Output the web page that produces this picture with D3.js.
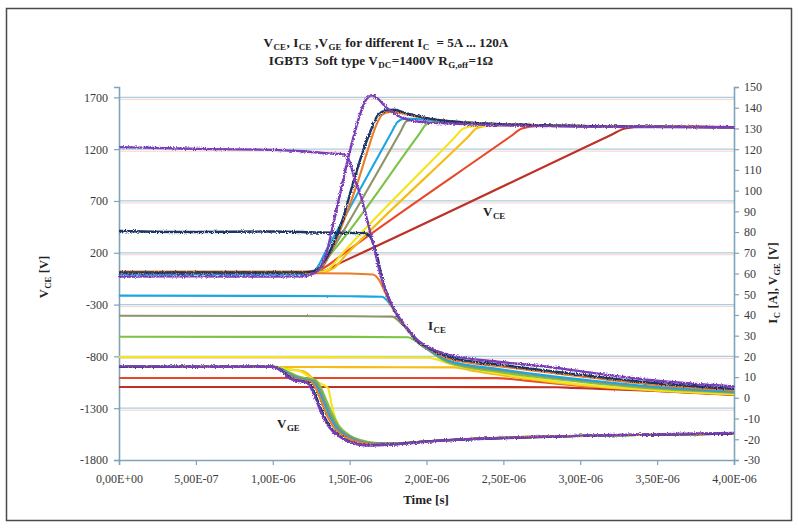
<!DOCTYPE html>
<html>
<head>
<meta charset="utf-8">
<script src="https://cdn.jsdelivr.net/npm/d3@7"></script>
<style>
  body { margin: 0; background: #fff; }
  text { font-family: "Liberation Serif", "Times New Roman", serif; }
</style>
</head>
<body>
<div id="chart"></div>
<script>
// axis ticks
const xTicks = [0, 5e-7, 1e-6, 1.5e-6, 2e-6, 2.5e-6, 3e-6, 3.5e-6, 4e-6];
const xTickLabels = ["0,00E+00", "5,00E-07", "1,00E-06", "1,50E-06", "2,00E-06", "2,50E-06", "3,00E-06", "3,50E-06", "4,00E-06"];
const leftTicks = [-1800, -1300, -800, -300, 200, 700, 1200, 1700];
const rightTicks = [-30, -20, -10, 0, 10, 20, 30, 40, 50, 60, 70, 80, 90, 100, 110, 120, 130, 140, 150];

// series (turn-off current), colours
const currents = ["120A", "80A", "60A", "50A", "40A", "30A", "20A", "15A", "10A", "5A"];
const colors = ["#7a3db8", "#1c3563", "#ea7d26", "#1ea5e3", "#8c9468", "#7cc444", "#f3e41c", "#f6bb12", "#e9472b", "#bd3126"];

// VCE [V] vs time [us]
const vce120 = [[0,-30],[0.5,-28],[1.0,-30],[1.2,-28],[1.25,-10],[1.30,40],[1.35,200],[1.40,520],[1.45,850],[1.50,1170],[1.56,1500],[1.60,1660],[1.645,1720],[1.68,1692],[1.74,1600],[1.83,1510],[1.95,1465],[2.2,1445],[2.5,1430],[3.0,1418],[3.5,1414],[4.0,1412]];
const vce80 = [[0,10],[1.2,10],[1.26,20],[1.32,80],[1.38,240],[1.45,500],[1.52,860],[1.58,1150],[1.64,1390],[1.68,1520],[1.74,1575],[1.79,1580],[1.86,1550],[2.0,1500],[2.2,1462],[2.6,1435],[3.2,1420],[4.0,1412]];
const vce60 = [[0,20],[1.2,20],[1.26,25],[1.33,90],[1.40,280],[1.48,580],[1.55,870],[1.62,1200],[1.67,1420],[1.71,1530],[1.76,1560],[1.83,1550],[1.95,1510],[2.2,1465],[2.6,1437],[3.2,1420],[4.0,1412]];
const vce50 = [[0,-10],[1.2,-10],[1.24,0],[1.28,40],[1.35,230],[1.77,1355],[1.81,1460],[1.86,1495],[1.95,1490],[2.2,1462],[2.6,1437],[3.2,1420],[4.0,1412]];
const vce40 = [[0,5],[1.2,5],[1.27,10],[1.31,40],[1.40,260],[1.83,1365],[1.87,1470],[1.93,1492],[2.05,1480],[2.3,1455],[2.7,1433],[3.3,1418],[4.0,1412]];
const vce30 = [[0,0],[1.2,0],[1.25,10],[1.30,60],[1.40,230],[1.95,1340],[2.00,1440],[2.07,1465],[2.2,1458],[2.5,1440],[3.0,1422],[4.0,1412]];
const vce20 = [[0,0],[1.22,0],[1.30,8],[1.36,40],[1.45,190],[2.18,1308],[2.24,1400],[2.32,1425],[2.6,1435],[3.0,1422],[4.0,1412]];
const vce15 = [[0,10],[1.22,10],[1.32,15],[1.39,45],[1.48,185],[2.27,1318],[2.33,1405],[2.42,1428],[2.7,1432],[3.2,1420],[4.0,1412]];
const vce10 = [[0,15],[1.22,15],[1.28,20],[1.35,70],[1.45,180],[2.55,1327],[2.62,1400],[2.72,1425],[3.2,1422],[4.0,1413]];
const vce5 = [[0,5],[1.22,5],[1.31,15],[1.45,110],[3.20,1337],[3.29,1400],[3.40,1418],[4.0,1413]];

// IC [A] vs time [us]
const ic120 = [[0,121],[0.3,120.5],[0.6,120],[0.9,119.8],[1.2,119],[1.35,118],[1.46,117.5],[1.50,114],[1.53,106],[1.57,98],[1.61,87],[1.65,75],[1.71,57],[1.78,44],[1.86,35],[1.94,28],[2.05,23.2],[2.15,20.7],[2.48,17.3],[2.80,14.9],[3.13,11.5],[3.45,8.6],[4.0,5.5]];
const ic80 = [[0,80.5],[0.5,80],[1.0,80.3],[1.3,79.8],[1.6,79.5],[1.64,77],[1.68,68],[1.71,58],[1.78,43.5],[1.86,34.8],[1.94,27.6],[2.05,22.6],[2.15,19.6],[2.48,16],[2.8,13],[3.13,10],[3.45,7.4],[4.0,4.3]];
const ic60 = [[0,60.5],[1.0,60.3],[1.5,60],[1.65,59.5],[1.69,57],[1.73,51],[1.78,43.3],[1.86,34.6],[1.94,27.4],[2.05,22.2],[2.15,18.7],[2.48,15.2],[2.8,12.2],[3.13,9.2],[3.45,6.6],[4.0,3.6]];
const ic50 = [[0,49.3],[1.0,49.2],[1.5,49],[1.71,48.8],[1.75,46.5],[1.80,41],[1.86,34.3],[1.94,27.2],[2.05,21.8],[2.15,17.8],[2.48,13.8],[2.8,10.6],[3.13,7.9],[3.45,5.6],[4.0,3.0]];
const ic40 = [[0,39.6],[1.0,39.5],[1.5,39.4],[1.78,39.2],[1.82,37],[1.87,33.5],[1.94,27],[2.05,21.4],[2.15,17.3],[2.48,13.2],[2.8,10.1],[3.13,7.4],[3.45,5.1],[4.0,2.7]];
const ic30 = [[0,29.5],[1.0,29.4],[1.5,29.4],[1.88,29.2],[1.93,27.4],[1.99,24.4],[2.05,21],[2.15,16.8],[2.48,12.4],[2.8,9.3],[3.13,6.7],[3.45,4.6],[4.0,2.4]];
const ic20 = [[0,19.7],[1.0,19.7],[1.5,19.6],[2.0,19.5],[2.06,18.6],[2.15,16.5],[2.3,14],[2.48,11.6],[2.8,8.2],[3.13,5.6],[3.45,3.9],[4.0,1.8]];
const ic15 = [[0,14.9],[1.0,14.9],[1.5,14.8],[2.18,14.7],[2.24,14],[2.32,12.8],[2.48,11],[2.8,7.7],[3.13,5.3],[3.45,3.7],[4.0,1.6]];
const ic10 = [[0,9.6],[1.0,9.6],[1.5,9.6],[2.45,9.5],[2.55,9.1],[2.65,8.3],[2.8,7.2],[3.13,5.1],[3.45,3.6],[4.0,1.5]];
const ic5 = [[0,5.2],[1.0,5.2],[2.0,5.2],[2.85,5.1],[2.95,4.8],[3.13,4.3],[3.45,3.4],[4.0,1.4]];

// VGE [V] vs time [us]
const vge120 = [[0,15.2],[0.5,15],[1.0,15],[1.03,14.2],[1.07,12],[1.10,9.8],[1.14,8.6],[1.22,7.3],[1.25,4.5],[1.29,-2.5],[1.33,-9.5],[1.37,-14.5],[1.42,-18],[1.50,-21.3],[1.61,-23],[1.74,-22.8],[1.96,-21.4],[2.15,-20.4],[2.48,-19.4],[3.13,-18],[4.0,-17]];
const vge80 = [[0,15],[1.0,15],[1.04,14],[1.08,11.8],[1.11,9.7],[1.15,8.5],[1.23,7.4],[1.26,4.3],[1.30,-2.8],[1.34,-9.8],[1.38,-14.8],[1.43,-18.2],[1.51,-21.4],[1.62,-22.8],[1.75,-22.6],[1.96,-21.3],[2.15,-20.4],[2.48,-19.5],[3.13,-18.1],[4.0,-17.2]];
const vge60 = [[0,15],[1.0,15],[1.04,14],[1.08,12],[1.12,10],[1.17,8.7],[1.25,7.6],[1.28,4.5],[1.32,-2.5],[1.36,-9.5],[1.40,-14.5],[1.46,-18.2],[1.54,-21],[1.65,-22.4],[1.80,-22.2],[2.0,-21],[2.3,-19.8],[3.0,-18.3],[4.0,-17.3]];
const vge50 = [[0,15],[1.0,15],[1.05,14],[1.09,12.2],[1.13,10.2],[1.18,9],[1.26,7.8],[1.29,4.8],[1.33,-2],[1.37,-9],[1.41,-14],[1.47,-18],[1.55,-20.8],[1.66,-22.2],[1.82,-22],[2.0,-21],[2.3,-19.8],[3.0,-18.3],[4.0,-17.3]];
const vge40 = [[0,15],[1.0,15],[1.05,14.1],[1.09,12.4],[1.14,10.5],[1.19,9.3],[1.27,8.1],[1.30,5],[1.34,-1.8],[1.38,-8.6],[1.42,-13.8],[1.48,-17.8],[1.56,-20.6],[1.68,-22],[1.84,-21.9],[2.0,-21],[2.3,-19.8],[3.0,-18.3],[4.0,-17.3]];
const vge30 = [[0,15],[1.0,15],[1.05,14.2],[1.10,12.6],[1.15,10.8],[1.20,9.7],[1.28,8.5],[1.31,5.3],[1.35,-1.5],[1.39,-8.2],[1.43,-13.5],[1.49,-17.6],[1.57,-20.4],[1.69,-21.9],[1.85,-21.8],[2.0,-21],[2.3,-19.8],[3.0,-18.3],[4.0,-17.3]];
const vge20 = [[0,15],[1.02,15],[1.07,14.2],[1.12,13.6],[1.16,13.3],[1.22,11],[1.28,8],[1.33,6.2],[1.36,4.6],[1.385,-4],[1.41,-10.5],[1.44,-14.6],[1.52,-19.4],[1.61,-21.6],[1.74,-22.2],[1.96,-21.2],[2.3,-19.8],[3.0,-18.3],[4.0,-17.3]];
const vge15 = [[0,15],[1.02,15],[1.07,14.2],[1.13,13.5],[1.20,12.8],[1.25,10],[1.29,6.5],[1.32,2],[1.35,-5],[1.39,-11.5],[1.44,-16],[1.51,-19.5],[1.60,-21.5],[1.74,-22.2],[1.96,-21.2],[2.3,-19.8],[3.0,-18.3],[4.0,-17.3]];

const vceData = [vce120, vce80, vce60, vce50, vce40, vce30, vce20, vce15, vce10, vce5];
const icData = [ic120, ic80, ic60, ic50, ic40, ic30, ic20, ic15, ic10, ic5];
const vgeData = [vge120, vge80, vge60, vge50, vge40, vge30, vge20, vge15, null, null];

// set up svg
const width = 798, height = 528;
const plot = {left: 119, right: 734, top: 87, bottom: 460};

let svg = d3.select("#chart")
    .append("svg")
    .attr("width", width)
    .attr("height", height);

// rough trace look (scope noise) through a filter, not through the data
let defs = svg.append("defs");
let noisy = defs.append("filter").attr("id", "noisy")
    .attr("filterUnits", "userSpaceOnUse")
    .attr("x", 0).attr("y", 0).attr("width", width).attr("height", height);
noisy.append("feTurbulence").attr("type", "fractalNoise")
    .attr("baseFrequency", 0.9).attr("numOctaves", 1).attr("seed", 3).attr("result", "n");
noisy.append("feDisplacementMap").attr("in", "SourceGraphic").attr("in2", "n")
    .attr("scale", 4).attr("xChannelSelector", "R").attr("yChannelSelector", "G");

let soft = defs.append("filter").attr("id", "soft")
    .attr("filterUnits", "userSpaceOnUse")
    .attr("x", 0).attr("y", 0).attr("width", width).attr("height", height);
soft.append("feTurbulence").attr("type", "fractalNoise")
    .attr("baseFrequency", 0.7).attr("numOctaves", 1).attr("seed", 7).attr("result", "n");
soft.append("feDisplacementMap").attr("in", "SourceGraphic").attr("in2", "n")
    .attr("scale", 1.6).attr("xChannelSelector", "R").attr("yChannelSelector", "G");

// frame
svg.append("rect")
    .attr("x", 6.5).attr("y", 8.5)
    .attr("width", 785).attr("height", 512)
    .style("fill", "none")
    .style("stroke", "#4a4a4a")
    .style("stroke-width", 1.5);

// scales
var x = d3.scaleLinear().domain([0, 4e-6]).range([plot.left, plot.right]);
var yL = d3.scaleLinear().domain([-1800, 1800]).range([plot.bottom, plot.top]);
var yR = d3.scaleLinear().domain([-30, 150]).range([plot.bottom, plot.top]);

// gridlines (blue with a pink ghost, like the printed original)
let grid = svg.append("g");
leftTicks.filter(function(v) { return v > -1800; }).forEach(function(v) {
    grid.append("line")
        .attr("x1", plot.left).attr("x2", plot.right)
        .attr("y1", yL(v) + 2).attr("y2", yL(v) + 2)
        .style("stroke", "#f6d2c6").style("stroke-width", 1);
    grid.append("line")
        .attr("x1", plot.left).attr("x2", plot.right)
        .attr("y1", yL(v)).attr("y2", yL(v))
        .style("stroke", "#a9cde0").style("stroke-width", 1.2);
});

// axes
const axisColor = "#7fa3bb";

let gx = svg.append("g")
    .attr("transform", "translate(0," + plot.bottom + ")")
    .call(d3.axisBottom(x).tickValues(xTicks).tickSizeOuter(0).tickSize(5).tickPadding(9)
        .tickFormat(function(d, i) { return xTickLabels[i]; }));

let gl = svg.append("g")
    .attr("transform", "translate(" + plot.left + ",0)")
    .call(d3.axisLeft(yL).tickValues(leftTicks).tickSizeOuter(0).tickSize(5).tickPadding(6)
        .tickFormat(function(d) { return String(d); }));

let gr = svg.append("g")
    .attr("transform", "translate(" + plot.right + ",0)")
    .call(d3.axisRight(yR).tickValues(rightTicks).tickSizeOuter(0).tickSize(5).tickPadding(5)
        .tickFormat(function(d) { return String(d); }));

[gx, gl, gr].forEach(function(g) {
    g.select(".domain").style("stroke", axisColor).style("stroke-width", 1.6);
    g.selectAll(".tick line").style("stroke", axisColor).style("stroke-width", 1.2);
    g.selectAll(".tick text")
        .style("font-family", "'Liberation Serif', 'Times New Roman', serif")
        .style("font-size", "12px")
        .style("fill", "#3a3a3a");
});

// traces
let lineL = d3.line()
    .x(function(d) { return x(d[0] * 1e-6); })
    .y(function(d) { return yL(d[1]); })
    .curve(d3.curveMonotoneX);

let lineR = d3.line()
    .x(function(d) { return x(d[0] * 1e-6); })
    .y(function(d) { return yR(d[1]); })
    .curve(d3.curveMonotoneX);

let traces = svg.append("g");

// lowest current first so the 120A trace lies on top
d3.range(currents.length - 1, -1, -1).forEach(function(i) {
    var filt = i < 2 ? "url(#noisy)" : "url(#soft)";
    var w = i < 2 ? 2.4 : 2.1;

    if (vgeData[i]) {
        traces.append("path")
            .datum(vgeData[i])
            .attr("d", lineR)
            .attr("filter", filt)
            .style("fill", "none")
            .style("stroke", colors[i])
            .style("stroke-width", w);
    }

    traces.append("path")
        .datum(icData[i])
        .attr("d", lineR)
        .attr("filter", filt)
        .style("fill", "none")
        .style("stroke", colors[i])
        .style("stroke-width", w);

    traces.append("path")
        .datum(vceData[i])
        .attr("d", lineL)
        .attr("filter", filt)
        .style("fill", "none")
        .style("stroke", colors[i])
        .style("stroke-width", w);
});

// text with subscripts: parts = [[text, isSub], ...]
function label(xp, yp, parts, size, anchor, rotate) {
    var t = svg.append("text")
        .attr("x", xp).attr("y", yp)
        .attr("text-anchor", anchor || "start")
        .style("font-weight", "bold")
        .style("font-size", size + "px")
        .style("fill", "#222")
        .style("white-space", "pre");
    if (rotate) t.attr("transform", "rotate(" + rotate + "," + xp + "," + yp + ")");
    var shift = size * 0.23, down = false;
    parts.forEach(function(p) {
        var s = t.append("tspan").text(p[0]);
        if (p[1]) {
            s.style("font-size", (size * 0.68) + "px").attr("dx", 0.5);
            if (!down) { s.attr("dy", shift); down = true; }
        } else if (down) {
            s.attr("dy", -shift).attr("dx", 0.5);
            down = false;
        }
    });
    return t;
}

// title
label(386, 47, [["V"], ["CE", 1], [", I"], ["CE", 1], [" ,V"], ["GE", 1], [" for different I"], ["C", 1], ["  = 5A ... 120A"]], 13.2, "middle");
label(381, 64.5, [["IGBT3  Soft type V"], ["DC", 1], ["=1400V R"], ["G,off", 1], ["=1\u03a9"]], 13.2, "middle");

// axis titles
label(48, 277, [["V"], ["CE", 1], [" [V]"]], 12.5, "middle", -90);
label(777, 283, [["I"], ["C", 1], [" [A], V"], ["GE", 1], [" [V]"]], 12.5, "middle", -90);
label(426, 504, [["Time [s]"]], 13, "middle");

// curve labels
label(483, 216, [["V"], ["CE", 1]], 13);
label(428, 330, [["I"], ["CE", 1]], 13);
label(277, 428, [["V"], ["GE", 1]], 13);
</script>
</body>
</html>
